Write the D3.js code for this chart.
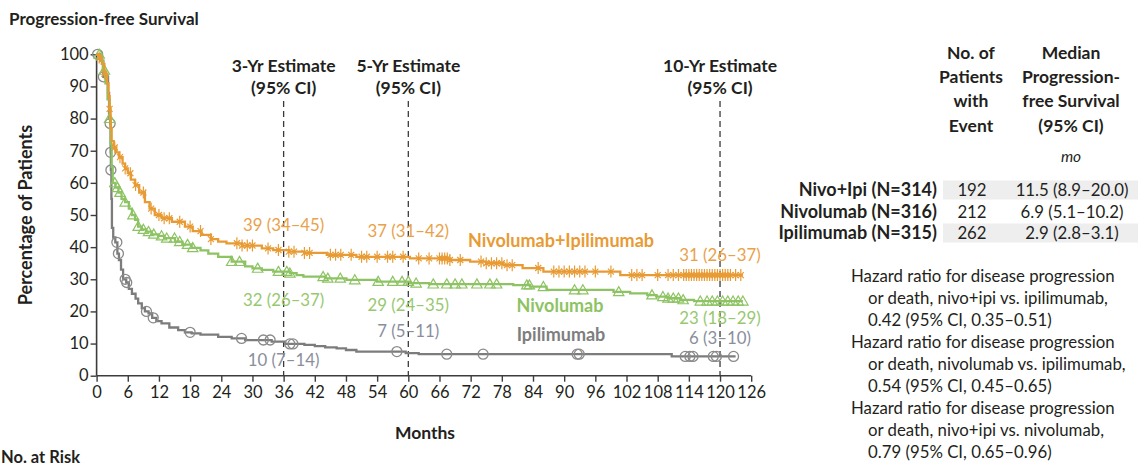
<!DOCTYPE html>
<html>
<head>
<meta charset="utf-8">
<script src="https://cdn.jsdelivr.net/npm/d3@7"></script>
<style>
  body { margin: 0; background: #fff; }
  svg { font-family: Lato, "Open Sans", sans-serif; }
</style>
</head>
<body>
<svg id="chart" width="1138" height="468"></svg>
<script>
// Kaplan-Meier step data: [month, percent progression-free]
const nivoIpiSteps = [[0,100],[0.5,99],[1,97],[1.5,94],[2,91],[2.3,87],[2.5,83],[2.7,77],[2.9,73],[3.3,71],[3.8,69.5],[4.3,68],[5,66],[5.5,64.5],[6,63],[6.6,61],[7.4,59.3],[8.2,57],[9.3,54],[10.2,52],[11.2,50],[12.5,49],[14.5,47.9],[17,46.4],[18.5,45],[20.2,43.8],[22,42.5],[23.4,41.7],[25,41.2],[28,40.5],[31.8,39.6],[34,39.1],[37,38.6],[40,38.2],[44.3,37.6],[50,37.0],[60.3,36.5],[68,36.0],[71.9,35.5],[75,35.0],[78.3,34.4],[82,33.5],[86,32.4],[100.8,31.3],[124.4,31.3]];
const nivoSteps = [[0,100],[0.7,98],[1.2,95],[1.7,91],[2.1,86],[2.5,80],[2.7,72],[2.9,65],[3.1,60],[3.6,58.5],[4.2,57],[4.8,55],[5.5,54],[6.2,52],[6.8,50],[7.4,48.5],[8,46.4],[8.7,45.5],[9.5,44.8],[10.6,44.0],[11.9,43.5],[13,42.8],[15.1,41.7],[16.5,40.8],[18.3,39.8],[20,39],[21.5,38],[23.4,37],[26,35.5],[28.6,34],[30,33.4],[31.8,32.9],[34,32.4],[37.2,31.9],[38.5,31.3],[39.8,30.8],[44,30.3],[48.1,29.8],[54,29.3],[60.3,28.8],[64,28.5],[80.2,28.2],[83.4,27.7],[86.6,26.7],[99.5,26.1],[102.7,25.6],[106,25.1],[107.8,24.6],[110,24.1],[112.3,23.6],[115,23.2],[124.4,23.2]];
const ipiSteps = [[0,100],[0.7,98],[1.3,93],[2.2,88],[2.4,80],[2.6,78.5],[2.7,69.5],[2.75,64],[2.85,55],[2.95,46],[3.2,43],[3.6,41.5],[4.0,38],[4.3,36],[4.7,33],[5.1,30],[5.7,29],[6.2,27],[6.8,25.5],[7.5,24],[8,22.5],[8.7,21],[9.3,20],[10,19.4],[10.7,18],[11.5,17],[12.5,16.3],[14,15],[15.7,14.2],[17,13.5],[18.3,13.2],[20,12.8],[23.4,12.1],[26,11.6],[28.6,11.1],[33.7,10.6],[36.3,9.9],[40,9.6],[42,9.2],[44,8.8],[46.2,8.5],[48,8],[50,7.5],[59.5,7],[62,6.7],[110.7,6.0],[123,6.0]];

// Censoring times (months)
const nivoIpiCensor = [0.5,1.5,2.5,3.5,4.5,5.5,6.5,7.5,9,10.5,12,13,14,16,18,20,22,27,28,29,30,33,35,37,38,40,41,45,46,47,49,51,52,54,56,57,59,62,64,66,66.5,67,67.5,68,70,74,75,76,77,78,79,80,85,88,89,90,91,92,93,94,96,99,103,104,105,108,110,111,112,113,113.5,114,114.5,115,115.5,116,116.5,117,117.5,118,118.5,119,119.5,120,120.5,121,121.5,122,123,124];
const nivoCensor = [0.5,1.5,2.5,3.5,4,4.5,5.5,7,8,9,10,11,12.5,13.5,15,16,17.5,18.5,26,27.5,31,35,36.6,37.2,43.6,44.5,46.9,49.7,54.2,57,58.8,60,61.5,64.8,67.4,69,70.3,73.2,75.7,77,82.8,83.3,86,92,93.6,100.5,106.9,109,110,111,112,112.9,116.2,117.5,118.5,119.5,120.5,121.5,122.5,123.5,124.4];
const ipiCensor = [0.2,1.3,2.6,2.7,2.75,3.9,4.2,5.5,5.8,9.6,10.9,18,27.9,32.1,33.4,37.2,37.8,57.8,67.4,74.4,92.5,92.9,113.3,114.2,114.8,118.7,119.3,122.6];

// Axis ticks
const xTicks = [0,6,12,18,24,30,36,42,48,54,60,66,72,78,84,90,96,102,108,114,120,126];
const yTicks = [0,10,20,30,40,50,60,70,80,90,100];

// Landmark estimates
const estimateMonths = [36, 60, 120];
const estimateTitles = ["3-Yr Estimate", "5-Yr Estimate", "10-Yr Estimate"];
const nivoIpiEstimates = ["39 (34\u201345)", "37 (31\u201342)", "31 (26\u201337)"];
const nivoEstimates = ["32 (26\u201337)", "29 (24\u201335)", "23 (18\u201329)"];
const ipiEstimates = ["10 (7\u201314)", "7 (5\u201311)", "6 (3\u201310)"];

// Summary table
const groupLabels = ["Nivo+Ipi (N=314)", "Nivolumab (N=316)", "Ipilimumab (N=315)"];
const eventCounts = ["192", "212", "262"];
const medianPFS = ["11.5 (8.9\u201320.0)", "6.9 (5.1\u201310.2)", "2.9 (2.8\u20133.1)"];
const hazardLines = [
  "Hazard ratio for disease progression", "or death, nivo+ipi vs. ipilimumab,", "0.42 (95% CI, 0.35\u20130.51)",
  "Hazard ratio for disease progression", "or death, nivolumab vs. ipilimumab,", "0.54 (95% CI, 0.45\u20130.65)",
  "Hazard ratio for disease progression", "or death, nivo+ipi vs. nivolumab,", "0.79 (95% CI, 0.65\u20130.96)"
];

const ORANGE = "#E89B34", ORANGE_TXT = "#E9A24A";
const GREEN = "#8DC363", GREEN_TXT = "#97C86F";
const GRAY = "#7C7C7C", GRAY_TXT = "#8A8E9C";
const INK = "#231F20";
const BOLD = 17.5, REG = 16.8;

const svg = d3.select("#chart");
const x = d3.scaleLinear().domain([0, 126]).range([96.6, 751.2]);
const y = d3.scaleLinear().domain([0, 100]).range([375.7, 54.3]);

function stepValue(steps, t) {
  let v = steps[0][1];
  for (const s of steps) { if (s[0] <= t) v = s[1]; else break; }
  return v;
}

// Title and axis titles
svg.append("text").attr("x", 9).attr("y", 25).attr("font-size", 17).attr("font-weight", 700)
  .attr("fill", INK).text("Progression-free Survival");
svg.append("text").attr("transform", "translate(32,215) rotate(-90)").attr("text-anchor", "middle")
  .attr("font-size", 18).attr("font-weight", 700).attr("fill", INK).text("Percentage of Patients");
svg.append("text").attr("x", 425).attr("y", 439).attr("text-anchor", "middle")
  .attr("font-size", BOLD).attr("font-weight", 700).attr("fill", INK).text("Months");
svg.append("text").attr("x", 1).attr("y", 463).attr("font-size", 16.5).attr("font-weight", 700)
  .attr("fill", INK).text("No. at Risk");

// Axes
const yAxis = svg.append("g").attr("transform", `translate(${x(0)},0)`)
  .call(d3.axisLeft(y).tickValues(yTicks).tickSize(6).tickPadding(2));
const xAxis = svg.append("g").attr("transform", `translate(0,${y(0)})`)
  .call(d3.axisBottom(x).tickValues(xTicks).tickSize(6).tickPadding(5));
[yAxis, xAxis].forEach(g => {
  g.select(".domain").attr("stroke", "#3c3c3c").attr("stroke-width", 1.6);
  g.selectAll(".tick line").attr("stroke", "#3c3c3c").attr("stroke-width", 1.4);
  g.selectAll(".tick text").attr("fill", INK).attr("font-size", 16.5)
    .attr("font-family", "Lato, 'Open Sans', sans-serif");
});
yAxis.select(".domain").attr("d", `M-0,${y(100)}V${y(0)}`);
xAxis.select(".domain").attr("d", `M${x(0)},0H${x(126)}`);

// Landmark dashed lines and headings
estimateMonths.forEach((m, i) => {
  svg.append("line").attr("x1", x(m)).attr("x2", x(m)).attr("y1", 101).attr("y2", y(0))
    .attr("stroke", "#3a3a3a").attr("stroke-width", 1.3).attr("stroke-dasharray", "6,4");
  svg.append("text").attr("x", x(m)).attr("y", 72).attr("text-anchor", "middle")
    .attr("font-size", BOLD).attr("font-weight", 700).attr("fill", INK).text(estimateTitles[i]);
  svg.append("text").attr("x", x(m)).attr("y", 94).attr("text-anchor", "middle")
    .attr("font-size", BOLD).attr("font-weight", 700).attr("fill", INK).text("(95% CI)");
});

// Survival curves
const line = d3.line().x(d => x(d[0])).y(d => y(d[1])).curve(d3.curveStepAfter);
const groups = [
  { steps: ipiSteps, censor: ipiCensor, color: GRAY, mark: "circle" },
  { steps: nivoSteps, censor: nivoCensor, color: GREEN, mark: "triangle" },
  { steps: nivoIpiSteps, censor: nivoIpiCensor, color: ORANGE, mark: "star" }
];
groups.forEach(g => {
  svg.append("path").datum(g.steps).attr("d", line).attr("fill", "none")
    .attr("stroke", g.color).attr("stroke-width", 2.3);
  const marks = svg.append("g");
  g.censor.forEach(t => {
    const cx = x(t), cy = y(stepValue(g.steps, t));
    if (g.mark === "circle") {
      marks.append("circle").attr("cx", cx).attr("cy", cy).attr("r", 5)
        .attr("fill", "none").attr("stroke", "#8a8a8a").attr("stroke-width", 1.3);
    } else if (g.mark === "triangle") {
      const s = 5.2;
      marks.append("path").attr("d", `M${cx},${cy - s}L${cx + s},${cy + s * 0.75}L${cx - s},${cy + s * 0.75}Z`)
        .attr("fill", "none").attr("stroke", GREEN).attr("stroke-width", 1.2);
    } else {
      marks.append("path")
        .attr("d", `M${cx},${cy - 6}V${cy + 6}M${cx - 3},${cy - 3}L${cx + 3},${cy + 3}M${cx - 3},${cy + 3}L${cx + 3},${cy - 3}`)
        .attr("stroke", ORANGE).attr("stroke-width", 1.2).attr("fill", "none");
    }
  });
});

// Estimate labels
const nivoIpiY = [231, 237, 261];
const nivoY = [306, 311, 324];
const ipiY = [366, 337, 344];
estimateMonths.forEach((m, i) => {
  svg.append("text").attr("x", x(m)).attr("y", nivoIpiY[i]).attr("text-anchor", "middle")
    .attr("font-size", REG).attr("fill", ORANGE_TXT).text(nivoIpiEstimates[i]);
  svg.append("text").attr("x", x(m)).attr("y", nivoY[i]).attr("text-anchor", "middle")
    .attr("font-size", REG).attr("fill", GREEN_TXT).text(nivoEstimates[i]);
  svg.append("text").attr("x", x(m)).attr("y", ipiY[i]).attr("text-anchor", "middle")
    .attr("font-size", REG).attr("fill", GRAY_TXT).text(ipiEstimates[i]);
});

// Curve names
svg.append("text").attr("x", 561).attr("y", 247).attr("text-anchor", "middle").attr("font-size", 18)
  .attr("font-weight", 700).attr("fill", ORANGE).text("Nivolumab+Ipilimumab");
svg.append("text").attr("x", 560).attr("y", 312).attr("text-anchor", "middle").attr("font-size", 18)
  .attr("font-weight", 700).attr("fill", GREEN).text("Nivolumab");
svg.append("text").attr("x", 561).attr("y", 341).attr("text-anchor", "middle").attr("font-size", 18)
  .attr("font-weight", 700).attr("fill", "#7E7E7E").text("Ipilimumab");

// Summary table
const headA = ["No. of", "Patients", "with", "Event"];
const headB = ["Median", "Progression-", "free Survival", "(95% CI)"];
const headY = [59, 83, 107, 132];
headA.forEach((t, i) => svg.append("text").attr("x", 971).attr("y", headY[i]).attr("text-anchor", "middle")
  .attr("font-size", BOLD).attr("font-weight", 700).attr("fill", INK).text(t));
headB.forEach((t, i) => svg.append("text").attr("x", 1071).attr("y", headY[i]).attr("text-anchor", "middle")
  .attr("font-size", BOLD).attr("font-weight", 700).attr("fill", INK).text(t));
svg.append("text").attr("x", 1071).attr("y", 162).attr("text-anchor", "middle").attr("font-size", 15.5)
  .attr("font-style", "italic").attr("fill", INK).text("mo");

const rowY = [190, 212, 233];
groupLabels.forEach((lab, i) => {
  if (i !== 1) {
    svg.append("rect").attr("x", 943).attr("y", rowY[i] - 9.5).attr("width", 195).attr("height", 19)
      .attr("fill", "#EEEEEF");
  }
  svg.append("text").attr("x", 937).attr("y", rowY[i] + 6).attr("text-anchor", "end")
    .attr("font-size", 18).attr("font-weight", 700).attr("fill", INK).text(lab);
  svg.append("text").attr("x", 972).attr("y", rowY[i] + 6).attr("text-anchor", "middle")
    .attr("font-size", REG).attr("fill", INK).text(eventCounts[i]);
  svg.append("text").attr("x", 1072).attr("y", rowY[i] + 6).attr("text-anchor", "middle")
    .attr("font-size", REG).attr("fill", INK).text(medianPFS[i]);
});

// Hazard ratios
hazardLines.forEach((t, i) => {
  svg.append("text").attr("x", i % 3 === 0 ? 851 : 868).attr("y", 282 + i * 22)
    .attr("font-size", REG).attr("fill", INK).text(t);
});
</script>
</body>
</html>
